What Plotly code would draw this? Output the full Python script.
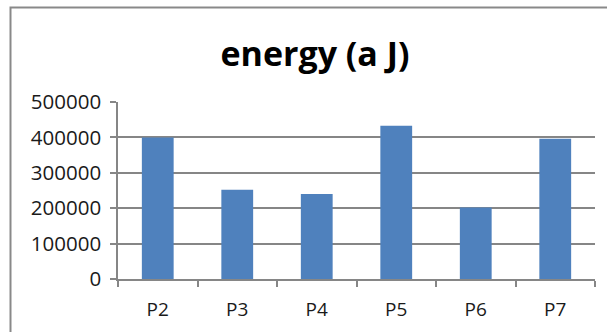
import plotly.graph_objects as go

# Energy per sample
categories = ["P2", "P3", "P4", "P5", "P6", "P7"]
energy = [400000, 252000, 240000, 433000, 202000, 396000]
y_ticks = [0, 100000, 200000, 300000, 400000, 500000]

W, H = 607, 332
L, R, T, B = 118, 12, 102, 53
plot_w = W - L - R
plot_h = H - T - B

grid_col = "#868686"
bar_col = "#4F81BD"
font_family = "Open Sans, Lato, sans-serif"

fig = go.Figure(
    go.Bar(
        x=categories,
        y=energy,
        marker=dict(color=bar_col, line=dict(width=0)),
    )
)

# Outer chart frame (left/top edges visible, the rest runs off the page)
def px_to_paper_x(px):
    return (px - L) / plot_w

def px_to_paper_y(py):
    return (H - B - py) / plot_h

fig.add_shape(
    type="rect",
    xref="paper", yref="paper",
    x0=px_to_paper_x(10.5), x1=px_to_paper_x(W + 20),
    y0=px_to_paper_y(H + 20), y1=px_to_paper_y(7.5),
    line=dict(color="#898989", width=2),
    fillcolor="rgba(0,0,0,0)",
    layer="below",
)

fig.update_layout(
    width=W,
    height=H,
    margin=dict(l=L, r=R, t=T, b=B, pad=0, autoexpand=False),
    paper_bgcolor="white",
    plot_bgcolor="white",
    bargap=0.6,
    showlegend=False,
    title=dict(
        text="<b>energy (a J)</b>",
        x=315 / W,
        xanchor="center",
        y=1 - 54 / H,
        yanchor="middle",
        yref="container",
        font=dict(family=font_family, size=34, color="#000000"),
    ),
    font=dict(family=font_family, color="#1a1a1a"),
    xaxis=dict(
        type="category",
        automargin=False,
        showgrid=False,
        showline=True,
        linecolor=grid_col,
        linewidth=1.5,
        ticks="outside",
        tickson="boundaries",
        ticklen=6,
        tickcolor=grid_col,
        tickwidth=1.5,
        tickfont=dict(size=19, color="#1a1a1a"),
        ticklabelstandoff=12,
        range=[-0.5, 5.5],
    ),
    yaxis=dict(
        range=[0, 500000],
        automargin=False,
        tickvals=y_ticks,
        tickformat="d",
        showgrid=True,
        gridcolor=grid_col,
        gridwidth=1.5,
        zeroline=False,
        showline=True,
        linecolor=grid_col,
        linewidth=1.5,
        ticks="outside",
        ticklen=6,
        tickcolor=grid_col,
        tickwidth=1.5,
        tickfont=dict(size=20.5, color="#1a1a1a"),
        ticklabelstandoff=5,
    ),
)

fig.write_html("out.html")
